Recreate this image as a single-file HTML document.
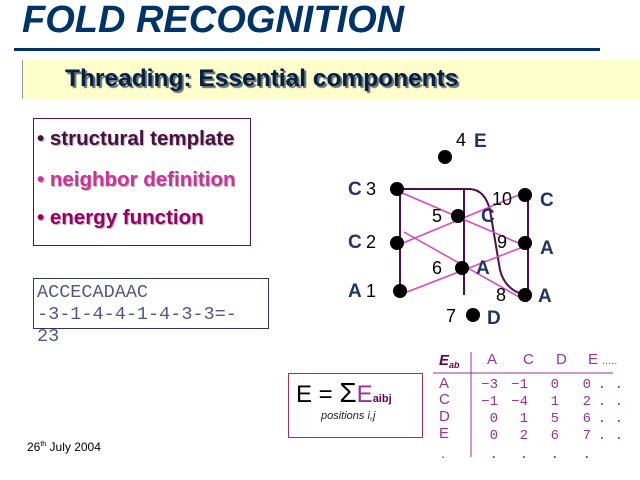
<!DOCTYPE html>
<html><head><style>
body{margin:0;width:640px;height:480px;background:#fff;position:relative;overflow:hidden;font-family:"Liberation Sans",sans-serif}
.a{position:absolute;white-space:nowrap}
</style></head><body>
<div class="a" style="left:22px;top:-1px;font-size:38px;font-weight:bold;font-style:italic;color:#003366">FOLD RECOGNITION</div>
<div class="a" style="left:14px;top:48px;width:586px;height:3px;background:#003366"></div>
<div class="a" style="left:22px;top:60px;width:618px;height:39px;background:#ffffcc;border-left:1px solid #999"></div>
<div class="a" style="left:65px;top:65px;font-size:24.5px;font-weight:bold;color:#002244;text-shadow:2px 2px 1px #667">Threading: Essential components</div>
<div class="a" style="left:33px;top:118px;width:216px;height:126px;border:1px solid #4a1a4a"></div>
<div class="a" style="left:37px;top:127px;font-size:20.5px;font-weight:bold;color:#4a1040;text-shadow:1px 1px 1px #aaa">• structural template</div>
<div class="a" style="left:37px;top:168px;font-size:20.5px;font-weight:bold;color:#cc3399;text-shadow:1px 1px 1px #aaa">• neighbor definition</div>
<div class="a" style="left:37px;top:206px;font-size:20.5px;font-weight:bold;color:#990066;text-shadow:1px 1px 1px #aaa">• energy function</div>
<div class="a" style="left:33px;top:278px;width:234px;height:49px;border:1px solid #333366"></div>
<div class="a" style="left:37px;top:282px;font-family:'Liberation Mono',monospace;font-size:18.5px;line-height:22px;color:#555588">ACCECADAAC<br>-3-1-4-4-1-4-3-3=-<br>23</div>
<svg class="a" style="left:0;top:0" width="640" height="480">
<g stroke="#4a1050" stroke-width="2" fill="none">
<line x1="400" y1="189" x2="400" y2="291"/>
<line x1="464" y1="189" x2="464" y2="295"/>
<line x1="528" y1="195" x2="528" y2="295"/>
<path d="M397 189 L470 189 Q485 190 490 210 L500 270 Q505 290 525 295"/>
</g>
<g stroke="#dd44bb" stroke-width="1.5">
<line x1="400" y1="192" x2="523" y2="245"/>
<line x1="403" y1="243" x2="521" y2="194"/>
<line x1="404" y1="232" x2="528" y2="302"/>
<line x1="407" y1="292" x2="523" y2="247"/>
</g>
<g fill="#000">
<circle cx="445" cy="157" r="7"/><circle cx="397" cy="189" r="7"/><circle cx="397" cy="243" r="7"/><circle cx="400" cy="291" r="7"/>
<circle cx="458" cy="216" r="7"/><circle cx="462" cy="268" r="7"/><circle cx="525" cy="195" r="7"/><circle cx="525" cy="243" r="7"/><circle cx="525" cy="295" r="7"/><circle cx="473" cy="315" r="7"/>
</g>
<g font-family="Liberation Sans" font-size="18" fill="#000">
<text x="456" y="146">4</text><text x="366" y="195">3</text><text x="366" y="248">2</text><text x="366" y="297">1</text>
<text x="432" y="222">5</text><text x="432" y="274">6</text><text x="492" y="205">10</text><text x="497" y="248">9</text><text x="496" y="301">8</text><text x="446" y="322">7</text>
</g>
<g font-family="Liberation Sans" font-size="19" font-weight="bold" fill="#223366">
<text x="474" y="147">E</text><text x="348" y="195">C</text><text x="348" y="248">C</text><text x="348" y="297">A</text>
<text x="481" y="222">C</text><text x="476" y="274">A</text><text x="540" y="206">C</text><text x="540" y="254">A</text><text x="538" y="302">A</text><text x="487" y="324">D</text>
</g>
<line x1="471" y1="352" x2="471" y2="457" stroke="#993399" stroke-width="1"/>
<line x1="433" y1="373" x2="613" y2="373" stroke="#993399" stroke-width="1"/>
<text x="439" y="365" font-size="15" font-weight="bold" font-style="italic" fill="#660055">E<tspan font-size="9" dy="3">ab</tspan></text>
<g font-family="Liberation Sans" font-size="15" fill="#993399">
<text x="487" y="364">A</text><text x="523" y="364">C</text><text x="556" y="364">D</text><text x="588" y="364">E</text><text x="602" y="364" font-size="11">.....</text>
<text x="439" y="388">A</text><text x="439" y="404">C</text><text x="439" y="421">D</text><text x="439" y="438">E</text><text x="441" y="458">.</text>
</g>
<g font-family="Liberation Mono" font-size="14" fill="#993399" text-anchor="end">
<text x="498" y="388">−3</text><text x="528" y="388">−1</text><text x="559" y="388">0</text><text x="591" y="388">0</text><text x="623" y="388">. .</text>
<text x="498" y="405">−1</text><text x="528" y="405">−4</text><text x="559" y="405">1</text><text x="591" y="405">2</text><text x="623" y="405">. .</text>
<text x="498" y="422">0</text><text x="528" y="422">1</text><text x="559" y="422">5</text><text x="591" y="422">6</text><text x="623" y="422">. .</text>
<text x="498" y="439">0</text><text x="528" y="439">2</text><text x="559" y="439">6</text><text x="591" y="439">7</text><text x="623" y="439">. .</text>
<text x="498" y="458">.</text><text x="528" y="458">.</text><text x="559" y="458">.</text><text x="591" y="458">.</text>
</g>
</svg>
<div class="a" style="left:288px;top:373px;width:133px;height:63px;border:1px solid #993366"></div>
<div class="a" style="left:296px;top:377px;font-size:24px;color:#000">E = <span style="font-size:28px">Σ</span><span style="color:#993399">E</span><span style="font-size:11px;font-weight:bold;color:#660044">aibj</span></div>
<div class="a" style="left:321px;top:410px;font-size:11px;font-style:italic;color:#222">positions i,j</div>
<div class="a" style="left:27px;top:440px;font-size:12px;color:#000">26<sup style="font-size:7px">th</sup> July 2004</div>
</body></html>
